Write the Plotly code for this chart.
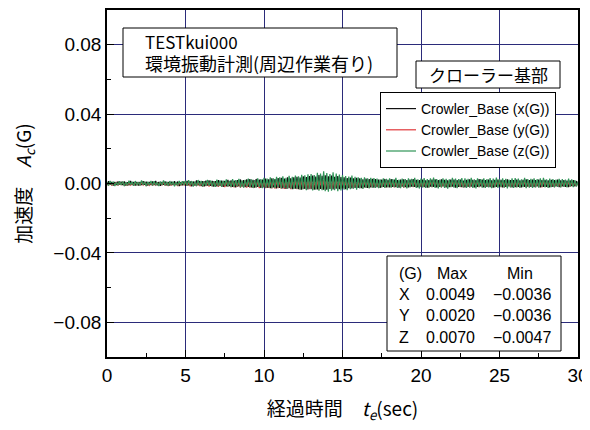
import plotly.graph_objects as go

# ---- data (acceleration in units of 1e-4 G, sampled every 0.1 s, 0..30 s) ----
SCALE = 1e-4
DT = 0.1
acc_x = [
    -10, 13, -7, 9, -12, 8, -9, 11, -6, 10,
    -8, 12, -11, 7, -10, 14, -9, 8, -12, 9,
    -11, 8, -9, 13, -7, 10, -12, 9, -8, 11,
    -9, 14, -10, 8, -13, 9, -7, 12, -10, 8,
    -12, 10, -8, 13, -9, 11, -14, 8, -10, 12,
    -13, 15, -10, 12, -16, 11, -12, 17, -11, 14,
    -15, 13, -17, 16, -12, 18, -14, 15, -18, 13,
    -16, 20, -14, 17, -19, 15, -17, 21, -15, 18,
    -20, 17, -22, 19, -16, 23, -18, 20, -21, 24,
    -19, 25, -22, 21, -24, 26, -20, 23, -25, 22,
    -23, 28, -25, 24, -27, 30, -22, 26, -28, 31,
    -26, 33, -29, 28, -31, 35, -27, 30, -33, 36,
    -30, 38, -32, 34, -35, 41, -31, 37, -34, 43,
    -33, 45, -36, 40, -34, 49, -32, 44, -35, 47,
    -36, 42, -31, 46, -34, 39, -30, 43, -33, 37,
    -29, 35, -32, 31, -27, 34, -28, 30, -26, 32,
    -25, 29, -27, 24, -23, 28, -26, 25, -22, 27,
    -24, 26, -21, 23, -25, 22, -20, 26, -23, 21,
    -22, 25, -19, 23, -21, 20, -24, 22, -18, 24,
    -21, 19, -23, 22, -18, 25, -20, 21, -22, 19,
    -19, 23, -21, 18, -24, 20, -18, 22, -20, 24,
    -22, 19, -20, 24, -17, 21, -23, 18, -21, 22,
    -18, 22, -24, 20, -19, 23, -21, 17, -22, 21,
    -20, 24, -18, 21, -23, 19, -20, 25, -17, 22,
    -23, 20, -19, 22, -21, 18, -24, 21, -19, 23,
    -18, 21, -22, 19, -20, 24, -17, 20, -23, 19,
    -21, 23, -19, 18, -22, 21, -20, 24, -18, 20,
    -19, 22, -21, 20, -17, 23, -22, 19, -20, 21,
    -20, 18, -23, 21, -19, 20, -17, 22, -21, 18,
    -17, 20, -19, 16, -21, 18, -15, 19, -16, 14,
    -6,
]
acc_y = [
    5, -9, 7, -12, 4, -8, 6, -11, 8, -7,
    6, -10, 5, -13, 7, -9, 4, -12, 6, -8,
    7, -11, 5, -9, 8, -14, 6, -10, 5, -12,
    4, -9, 7, -13, 6, -10, 8, -11, 5, -14,
    6, -12, 7, -9, 5, -15, 8, -11, 6, -10,
    8, -13, 6, -16, 9, -12, 7, -15, 10, -14,
    9, -17, 11, -14, 8, -18, 10, -16, 12, -15,
    11, -19, 9, -17, 13, -20, 10, -18, 12, -21,
    12, -22, 14, -19, 11, -23, 13, -21, 15, -24,
    14, -23, 12, -25, 15, -22, 13, -26, 16, -24,
    15, -27, 13, -25, 17, -28, 14, -30, 16, -26,
    18, -29, 15, -31, 17, -28, 19, -33, 16, -30,
    17, -32, 20, -34, 18, -31, 19, -36, 17, -33,
    18, -35, 16, -32, 20, -36, 17, -33, 19, -34,
    16, -31, 18, -33, 15, -29, 17, -32, 14, -30,
    15, -28, 13, -30, 16, -26, 14, -27, 12, -25,
    13, -24, 15, -26, 12, -23, 14, -25, 11, -22,
    12, -21, 14, -23, 11, -20, 13, -22, 10, -21,
    13, -20, 11, -22, 12, -19, 14, -21, 10, -23,
    11, -22, 13, -19, 10, -21, 12, -20, 14, -18,
    12, -21, 10, -19, 13, -22, 11, -20, 12, -18,
    13, -20, 11, -22, 10, -19, 12, -21, 14, -20,
    11, -19, 13, -21, 12, -20, 10, -22, 11, -18,
    12, -22, 10, -20, 13, -19, 11, -21, 12, -20,
    10, -21, 12, -19, 11, -22, 13, -20, 10, -18,
    12, -20, 11, -22, 13, -19, 10, -21, 12, -19,
    11, -21, 13, -20, 10, -18, 12, -22, 11, -20,
    13, -19, 11, -21, 12, -20, 10, -22, 13, -18,
    10, -20, 12, -19, 11, -21, 13, -18, 10, -20,
    11, -18, 10, -19, 12, -17, 9, -16, 10, -14,
    5,
]
acc_z = [
    8, -12, 15, -9, 11, -14, 7, -10, 13, -8,
    12, -15, 9, -11, 16, -7, 10, -13, 14, -10,
    9, -12, 17, -8, 11, -14, 10, -9, 15, -12,
    13, -10, 8, -15, 12, -9, 18, -11, 10, -13,
    14, -8, 11, -16, 9, -12, 15, -10, 13, -9,
    16, -12, 19, -10, 14, -17, 12, -15, 20, -11,
    15, -18, 13, -14, 21, -12, 17, -16, 14, -19,
    22, -15, 18, -20, 16, -13, 24, -18, 15, -21,
    25, -19, 20, -16, 27, -22, 18, -24, 21, -17,
    28, -21, 24, -26, 19, -23, 30, -20, 25, -27,
    32, -24, 28, -22, 35, -27, 30, -25, 38, -23,
    36, -29, 41, -26, 33, -30, 44, -28, 39, -32,
    46, -31, 42, -35, 50, -33, 47, -38, 53, -30,
    55, -40, 49, -36, 62, -42, 58, -39, 70, -44,
    60, -47, 54, -41, 65, -38, 57, -45, 51, -40,
    48, -36, 43, -39, 40, -33, 45, -30, 38, -35,
    36, -29, 32, -31, 35, -26, 30, -28, 33, -24,
    31, -25, 28, -27, 24, -22, 30, -26, 27, -23,
    29, -24, 26, -21, 32, -25, 23, -27, 28, -22,
    25, -28, 30, -23, 27, -20, 33, -26, 24, -29,
    28, -22, 31, -26, 25, -24, 29, -21, 34, -25,
    26, -28, 23, -22, 30, -25, 27, -29, 24, -21,
    32, -24, 28, -27, 25, -20, 31, -23, 29, -26,
    27, -22, 33, -25, 24, -28, 30, -21, 26, -24,
    29, -26, 25, -23, 31, -27, 28, -22, 34, -25,
    26, -21, 30, -24, 27, -28, 23, -22, 29, -26,
    31, -23, 28, -25, 24, -21, 33, -27, 26, -24,
    27, -26, 30, -22, 25, -24, 29, -20, 32, -23,
    24, -25, 28, -21, 26, -23, 22, -19, 27, -22,
    25, -20, 23, -22, 28, -18, 24, -21, 20, -17,
    10,
]
series_names = ["Crowler_Base (x(G))", "Crowler_Base (y(G))", "Crowler_Base (z(G))"]
series_colors = ["#111111", "#e0393b", "#2f9457"]

stats_rows = ["X", "Y", "Z"]
stats_max = ["0.0049", "0.0020", "0.0070"]
stats_min = ["−0.0036", "−0.0036", "−0.0047"]

x_ticks = [0, 5, 10, 15, 20, 25, 30]
y_ticks = [-0.08, -0.04, 0.0, 0.04, 0.08]

# ---- layout helpers ----
# The page body adds an 8 px margin, so the figure is made 8 px smaller and all
# positions below are given in page pixels.
OFF = 8
W, H = 590 - OFF, 430 - OFF
PL, PT, PR, PB = 107, 10, 578, 357          # plot area in page pixels
L, T = PL - OFF, PT - OFF
R, B = W - (PR - OFF), H - (PB - OFF)
PW, PH = PR - PL, PB - PT


def px(x):
    return (x - PL) / PW


def py(y):
    return (PB - y) / PH


FONT = "Liberation Sans, Arial, Noto Sans CJK JP, sans-serif"
JFONT = "Noto Sans CJK JP, Liberation Sans, sans-serif"

fig = go.Figure()
for vals, name, col in zip([acc_x, acc_y, acc_z], series_names, series_colors):
    t = [round(i * DT, 3) for i in range(len(vals))]
    fig.add_trace(go.Scatter(
        x=t, y=[v * SCALE for v in vals], mode="lines", name=name,
        line=dict(color=col, width=1.2),
    ))

shapes = []
annotations = []


def box(x0, y0, x1, y1):
    shapes.append(dict(type="rect", xref="paper", yref="paper",
                       x0=px(x0), x1=px(x1), y0=py(y1), y1=py(y0),
                       line=dict(color="black", width=1), fillcolor="white", layer="above"))


def text(x, y, s, size=17, xanchor="left", family=FONT, align="left"):
    annotations.append(dict(xref="paper", yref="paper", x=px(x), y=py(y), text=s,
                            showarrow=False, xanchor=xanchor, yanchor="middle", align=align,
                            font=dict(size=size, color="black", family=family)))


# title box
box(123, 28, 397, 77)
text(143, 52, "TESTkui000<br><span style='font-size:18px'>環境振動計測(周辺作業有り)</span>",
     17, family=JFONT)
# location box
box(416, 61, 560, 88)
text(488, 75, "クローラー基部", 17, xanchor="center", family=JFONT)
# stats box
box(387, 256, 561, 351)
text(397, 273, "(G)", 16)
text(452, 273, "Max", 16, xanchor="center")
text(520, 273, "Min", 16, xanchor="center")
for i, (r, mx, mn) in enumerate(zip(stats_rows, stats_max, stats_min)):
    yy = 294 + i * 21.5
    text(397, yy, r, 16)
    text(477, yy, mx, 16, xanchor="right")
    text(553, yy, mn, 16, xanchor="right")

fig.update_layout(
    width=W, height=H,
    margin=dict(l=L, r=R, t=T, b=B, pad=0),
    paper_bgcolor="white", plot_bgcolor="white",
    font=dict(family=FONT, size=19, color="black"),
    shapes=shapes, annotations=annotations,
    showlegend=True,
    legend=dict(x=px(380), y=py(92), xanchor="left", yanchor="top",
                bgcolor="white", bordercolor="black", borderwidth=1,
                font=dict(size=14, family=FONT), tracegroupgap=0,
                itemwidth=30),
)
fig.update_xaxes(
    range=[0, 30], tickvals=x_ticks, ticktext=[str(v) for v in x_ticks],
    automargin=False,
    showgrid=True, gridcolor="#2b2b7a", gridwidth=1,
    showline=True, linecolor="black", linewidth=1.5, mirror=True,
    ticks="inside", ticklen=7, tickcolor="black",
    minor=dict(ticks="inside", dtick=2.5, tick0=0, ticklen=4, tickcolor="black", showgrid=False),
    zeroline=False,
    title=dict(text="経過時間　<i>t</i><sub><i>e</i></sub>(sec)", standoff=18,
               font=dict(size=19, family=JFONT)),
    tickfont=dict(size=19),
)
fig.update_yaxes(
    range=[-0.1, 0.1], tickvals=y_ticks, tickformat=".2f",
    automargin=False,
    showgrid=True, gridcolor="#2b2b7a", gridwidth=1,
    showline=True, linecolor="black", linewidth=1.5, mirror=True,
    ticks="inside", ticklen=7, tickcolor="black",
    minor=dict(ticks="inside", dtick=0.02, tick0=0, ticklen=4, tickcolor="black", showgrid=False),
    zeroline=False,
    title=dict(text="加速度　<i>A</i><sub><i>c</i></sub>(G)", standoff=17,
               font=dict(size=19, family=JFONT)),
    tickfont=dict(size=19),
)

fig.write_html("out.html")
